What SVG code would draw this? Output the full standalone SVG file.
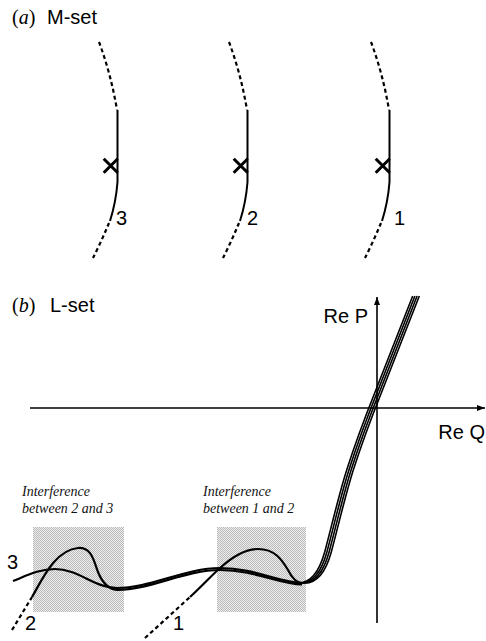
<svg xmlns="http://www.w3.org/2000/svg" xmlns:xlink="http://www.w3.org/1999/xlink" width="486" height="641" viewBox="0 0 486 641">
  <defs>
    <style>
      .lbl{font-family:"Liberation Sans",Arial,sans-serif;font-size:20px;fill:#000}
      .tag{font-family:"Liberation Serif","Times New Roman",serif;font-size:20px;fill:#000}
      .note{font-family:"Liberation Serif","Times New Roman",serif;font-style:italic;font-size:14px;fill:#111}
      .solid{fill:none;stroke:#000;stroke-width:2;stroke-linecap:butt}
      .dash{fill:none;stroke:#000;stroke-width:2.2;stroke-dasharray:4 3}
      .axis{fill:none;stroke:#000;stroke-width:1.6}
      .cross{stroke:#000;stroke-width:3}
      .curve{fill:none;stroke:#000;stroke-width:2.2;stroke-linejoin:round}
      .strand{fill:none;stroke:#000;stroke-width:1.6}
    </style>
    <pattern id="stipple" width="2" height="2" patternUnits="userSpaceOnUse">
      <rect width="2" height="2" fill="#eeeeee"/>
      <rect width="1" height="1" fill="#b9b9b9"/>
      <rect x="1" y="1" width="1" height="1" fill="#b9b9b9"/>
    </pattern>
    <marker id="arrow" viewBox="0 0 8 6" refX="8" refY="3" markerWidth="8" markerHeight="6" markerUnits="userSpaceOnUse" orient="auto">
      <path d="M0,0 L8,3 L0,6 z" fill="#000"/>
    </marker>
    <!-- one branch of the M-set: dashed continuation, solid segment, pole mark -->
    <g id="branch">
      <path class="dash" d="M99,42 Q111,74 117,110"/>
      <path class="solid" d="M117.5,110 L117.5,182 Q116,202 110,221"/>
      <path class="dash" d="M109,223 Q102,240 93,258"/>
      <path class="cross" d="M103.7,158.7 L117.7,172.7 M117.7,158.7 L103.7,172.7"/>
    </g>
    <!-- steep common rise of the L-set curves -->
    <path id="rise" d="M416,296 L378,393 C370,413 358,445 350,470 C342,495 334,530 328,552 C323,570 314,584 300,583"/>
  </defs>

  <rect width="486" height="641" fill="#fff"/>

  <!-- (a) M-set -->
  <g id="title-a">
    <text class="tag" x="12" y="24">(<tspan font-style="italic">a</tspan>)</text>
    <text class="lbl" x="47" y="24">M-set</text>
  </g>
  <g id="m-branch-3">
    <use xlink:href="#branch"/>
    <text class="lbl" x="116" y="225">3</text>
  </g>
  <g id="m-branch-2">
    <use xlink:href="#branch" transform="translate(130,0)"/>
    <text class="lbl" x="247" y="225">2</text>
  </g>
  <g id="m-branch-1">
    <use xlink:href="#branch" transform="translate(272,0)"/>
    <text class="lbl" x="394" y="225">1</text>
  </g>

  <!-- (b) L-set -->
  <g id="title-b">
    <text class="tag" x="12" y="312">(<tspan font-style="italic">b</tspan>)</text>
    <text class="lbl" x="50" y="312">L-set</text>
  </g>

  <g id="zone-23">
    <rect x="33" y="527" width="91" height="85" fill="url(#stipple)"/>
    <text class="note" x="22" y="496">Interference</text>
    <text class="note" x="22" y="513">between 2 and 3</text>
  </g>
  <g id="zone-12">
    <rect x="217" y="527" width="89" height="85" fill="url(#stipple)"/>
    <text class="note" x="203" y="496">Interference</text>
    <text class="note" x="203" y="513">between 1 and 2</text>
  </g>

  <g id="axes">
    <path class="axis" d="M30,408 L485,408" marker-end="url(#arrow)"/>
    <path class="axis" d="M377,623 L377,297" marker-end="url(#arrow)"/>
    <text class="lbl" x="368" y="323" text-anchor="end">Re P</text>
    <text class="lbl" x="485" y="439" text-anchor="end">Re Q</text>
  </g>

  <g id="connectors">
    <!-- bundle of four strands -->
    <use xlink:href="#rise" class="strand" transform="translate(-3.3,0)"/>
    <use xlink:href="#rise" class="strand" transform="translate(-1.1,0)"/>
    <use xlink:href="#rise" class="strand" transform="translate(1.1,0)"/>
    <use xlink:href="#rise" class="strand" transform="translate(3.3,0)"/>
    <!-- curve 3 -->
    <path class="curve" d="M13,581 C28,575 40,569 55,569 C78,569 95,588 117,588 C150,588 185,568 220,568 C255,568 280,583 302,583"/>
    <!-- curve 2 -->
    <path class="dash" d="M12,630 L32,597"/>
    <path class="curve" d="M32,597 C42,580 55,550 78,548 C92,547 94,562 98,572 C102,582 108,589 117,589.8 C150,590 185,570 220,570 C255,570 280,584.5 302,584.5"/>
    <!-- curve 1 -->
    <path class="dash" d="M145,638 L190,597"/>
    <path class="curve" d="M190,597 C200,588 210,577 220,568 C232,557 245,549 258,549 C275,549 282,560 288,570 C292,578 296,583 302,583"/>
  </g>

  <g id="curve-labels">
    <text class="lbl" x="7" y="569">3</text>
    <text class="lbl" x="25" y="630">2</text>
    <text class="lbl" x="173" y="630">1</text>
  </g>
</svg>
